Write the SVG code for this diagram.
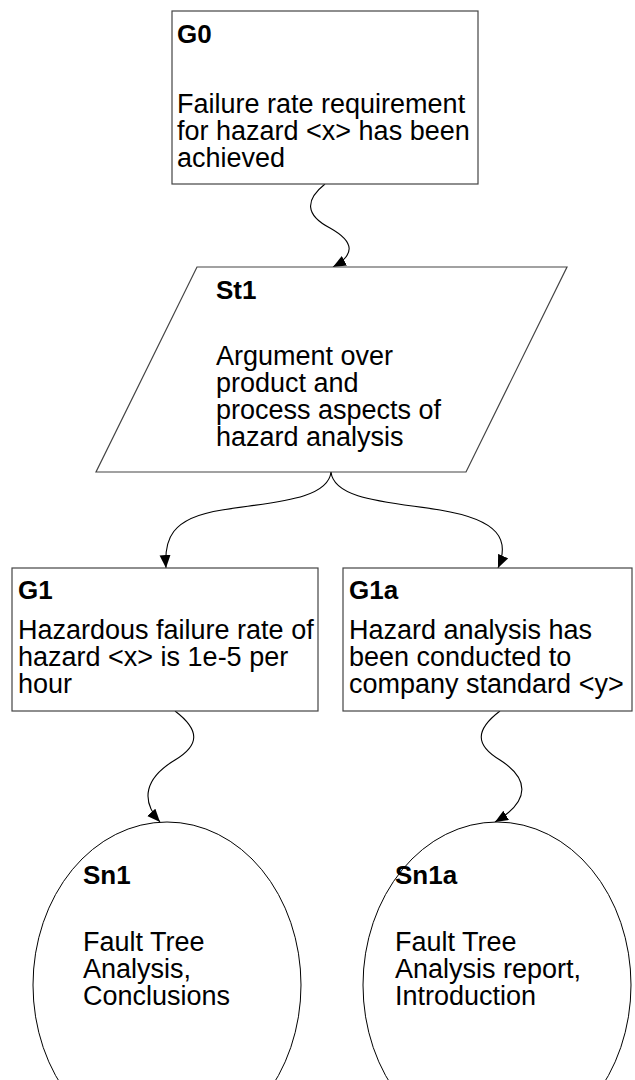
<svg xmlns="http://www.w3.org/2000/svg" width="635" height="1080" viewBox="0 0 635 1080">
<style>
.shape{fill:#fff;stroke:#444;stroke-width:1.2}
.lbl{font-family:"Liberation Sans",Arial,sans-serif;font-weight:bold;font-size:26px;fill:#000}
.txt{font-family:"Liberation Sans",Arial,sans-serif;font-size:27px;fill:#000}
.conn{fill:none;stroke:#000;stroke-width:1.1}
</style>
<defs>
<marker id="arrow" markerWidth="14" markerHeight="12" refX="13" refY="5.5" orient="auto" markerUnits="userSpaceOnUse">
<path d="M0,0 L13,5.5 L0,11 z" fill="#000"/>
</marker>
</defs>
<rect width="635" height="1080" fill="#fff"/>
<g id="connectors">
<path class="conn" marker-end="url(#arrow)" d="M325,184 C305,200 305,215 330,228 C355,242 355,255 333,267"/>
<path class="conn" marker-end="url(#arrow)" d="M331,472 C328,500 272,502 222,510 C170,518 164,540 166,568"/>
<path class="conn" marker-end="url(#arrow)" d="M331,472 C334,500 390,502 440,510 C500,520 510,540 498,568"/>
<path class="conn" marker-end="url(#arrow)" d="M175,711 C200,730 200,745 175,760 C145,778 140,800 160,822"/>
<path class="conn" marker-end="url(#arrow)" d="M500,711 C475,730 475,745 500,760 C528,778 532,800 495,822"/>
</g>
<g id="G0">
<rect class="shape" x="172" y="11" width="306" height="173"/>
<text class="lbl" x="177" y="43">G0</text>
<text class="txt" x="177" y="113">Failure rate requirement</text>
<text class="txt" x="177" y="140">for hazard &lt;x&gt; has been</text>
<text class="txt" x="177" y="167">achieved</text>
</g>
<g id="St1">
<polygon class="shape" points="197,267 567,267 466,472 96,472"/>
<text class="lbl" x="216" y="299">St1</text>
<text class="txt" x="216" y="365">Argument over</text>
<text class="txt" x="216" y="392">product and</text>
<text class="txt" x="216" y="419">process aspects of</text>
<text class="txt" x="216" y="446">hazard analysis</text>
</g>
<g id="G1">
<rect class="shape" x="12" y="568" width="306" height="143"/>
<text class="lbl" x="18" y="599">G1</text>
<text class="txt" x="18" y="639">Hazardous failure rate of</text>
<text class="txt" x="18" y="666">hazard &lt;x&gt; is 1e-5 per</text>
<text class="txt" x="18" y="693">hour</text>
</g>
<g id="G1a">
<rect class="shape" x="343" y="568" width="289" height="143"/>
<text class="lbl" x="349" y="599">G1a</text>
<text class="txt" x="349" y="639">Hazard analysis has</text>
<text class="txt" x="349" y="666">been conducted to</text>
<text class="txt" x="349" y="693">company standard &lt;y&gt;</text>
</g>
<g id="Sn1">
<ellipse cx="167" cy="985" rx="134" ry="163" fill="#fff" stroke="#000" stroke-width="1"/>
<text class="lbl" x="83" y="884">Sn1</text>
<text class="txt" x="83" y="951">Fault Tree</text>
<text class="txt" x="83" y="978">Analysis,</text>
<text class="txt" x="83" y="1005">Conclusions</text>
</g>
<g id="Sn1a">
<ellipse cx="497" cy="985" rx="134" ry="163" fill="#fff" stroke="#000" stroke-width="1"/>
<text class="lbl" x="395" y="884">Sn1a</text>
<text class="txt" x="395" y="951">Fault Tree</text>
<text class="txt" x="395" y="978">Analysis report,</text>
<text class="txt" x="395" y="1005">Introduction</text>
</g>
</svg>
